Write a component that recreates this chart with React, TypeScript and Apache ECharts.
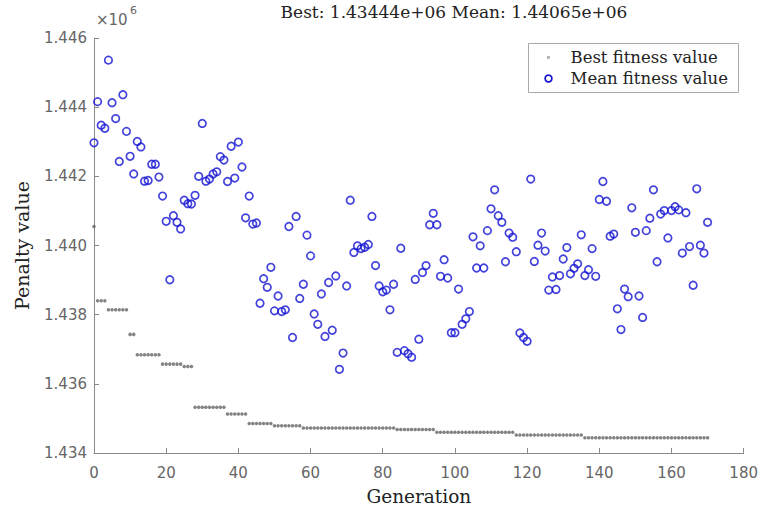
import React, { useEffect, useRef } from "react";
import * as echarts from "echarts";

// Mean fitness value per generation (0..170)
const meanFitness: number[] = [
  1442970, 1444160, 1443480, 1443390, 1445360, 1444130, 1443670, 1442430, 1444360, 1443300,
  1442580, 1442070, 1443010, 1442850, 1441860, 1441880, 1442350, 1442350, 1441980, 1441430,
  1440700, 1439010, 1440860, 1440670, 1440480, 1441310, 1441210, 1441200, 1441450, 1442000,
  1443530, 1441860, 1441920, 1442070, 1442130, 1442570, 1442470, 1441850, 1442870, 1441950,
  1442990, 1442270, 1440800, 1441430, 1440620, 1440650, 1438330, 1439040, 1438790, 1439370,
  1438110, 1438540, 1438090, 1438140, 1440550, 1437340, 1440840, 1438470, 1438880, 1440300,
  1439700, 1438020, 1437720, 1438600, 1437370, 1438930, 1437550, 1439120, 1436420, 1436890,
  1438830, 1441310, 1439800, 1439990, 1439910, 1439950, 1440030, 1440840, 1439420, 1438830,
  1438660, 1438710, 1438140, 1438880, 1436910, 1439920, 1436960, 1436870, 1436770, 1439020,
  1437290, 1439220, 1439420, 1440600, 1440930, 1440600, 1439110, 1439590, 1439060, 1437480,
  1437480, 1438740, 1437720, 1437880, 1438090, 1440250, 1439350, 1439990, 1439350, 1440430,
  1441060, 1441610, 1440860, 1440670, 1439530, 1440360, 1440240, 1439820, 1437470, 1437340,
  1437230, 1441920, 1439540, 1440010, 1440360, 1439840, 1438710, 1439090, 1438730, 1439130,
  1439610, 1439940, 1439180, 1439340, 1439470, 1440310, 1439130, 1439300, 1439910, 1439110,
  1441330, 1441850, 1441280, 1440270, 1440330, 1438170, 1437570, 1438740, 1438520, 1441090,
  1440380, 1438540, 1437920, 1440430, 1440790, 1441610, 1439530, 1440910, 1441010, 1440220,
  1441010, 1441120, 1441030, 1439780, 1440950, 1439970, 1438850, 1441640, 1440010, 1439780,
  1440670,
];

// Best fitness value per generation (0..170)
const bestFitness: number[] = [
  1440550, 1438400, 1438400, 1438400, 1438140, 1438140, 1438140, 1438140, 1438140, 1438140,
  1437430, 1437430, 1436840, 1436840, 1436840, 1436840, 1436840, 1436840, 1436840, 1436570,
  1436570, 1436570, 1436570, 1436570, 1436570, 1436500, 1436500, 1436500, 1435320, 1435320,
  1435320, 1435320, 1435320, 1435320, 1435320, 1435320, 1435320, 1435130, 1435130, 1435130,
  1435130, 1435130, 1435130, 1434850, 1434850, 1434850, 1434850, 1434850, 1434850, 1434850,
  1434790, 1434790, 1434790, 1434790, 1434790, 1434790, 1434790, 1434790, 1434720, 1434720,
  1434720, 1434720, 1434720, 1434720, 1434720, 1434720, 1434720, 1434720, 1434720, 1434720,
  1434720, 1434720, 1434720, 1434720, 1434720, 1434720, 1434720, 1434720, 1434720, 1434720,
  1434720, 1434720, 1434720, 1434720, 1434680, 1434680, 1434680, 1434680, 1434680, 1434680,
  1434680, 1434680, 1434680, 1434680, 1434680, 1434600, 1434600, 1434600, 1434600, 1434600,
  1434600, 1434600, 1434600, 1434600, 1434600, 1434600, 1434600, 1434600, 1434600, 1434600,
  1434600, 1434600, 1434600, 1434600, 1434600, 1434600, 1434600, 1434520, 1434520, 1434520,
  1434520, 1434520, 1434520, 1434520, 1434520, 1434520, 1434520, 1434520, 1434520, 1434520,
  1434520, 1434520, 1434520, 1434520, 1434520, 1434520, 1434440, 1434440, 1434440, 1434440,
  1434440, 1434440, 1434440, 1434440, 1434440, 1434440, 1434440, 1434440, 1434440, 1434440,
  1434440, 1434440, 1434440, 1434440, 1434440, 1434440, 1434440, 1434440, 1434440, 1434440,
  1434440, 1434440, 1434440, 1434440, 1434440, 1434440, 1434440, 1434440, 1434440, 1434440,
  1434440,
];

const seriesNames = ["Best fitness value", "Mean fitness value"];
const titleText = "Best: 1.43444e+06 Mean: 1.44065e+06";
const xAxisName = "Generation";
const yAxisName = "Penalty value";
const xRange = [0, 180, 20];
const yRange = [1434000, 1446000, 2000];

const SERIF = "'DejaVu Serif', 'Liberation Serif', serif";
const SANS = "'DejaVu Sans', sans-serif";
const BLUE = "#1414d2";

export default function App() {
  const ref = useRef<HTMLDivElement>(null);
  useEffect(() => {
    if (!ref.current) return;
    const chart = echarts.init(ref.current, undefined, { renderer: "svg" });
    const axisCommon = {
      axisLine: { show: true, lineStyle: { color: "#8a8a8a", width: 1 } },
      axisTick: { show: true, inside: true, length: 5, lineStyle: { color: "#8a8a8a" } },
      splitLine: { show: false },
      nameLocation: "middle" as const,
    };
    chart.setOption({
      animation: false,
      backgroundColor: "#fff",
      title: {
        text: titleText,
        left: 449,
        top: -2,
        textAlign: "center",
        textStyle: { fontFamily: SERIF, fontSize: 17, fontWeight: "normal", color: "#222" },
      },
      grid: { left: 94, right: 12, top: 38, bottom: 50 },
      xAxis: {
        type: "value",
        min: xRange[0],
        max: xRange[1],
        interval: xRange[2],
        name: xAxisName,
        nameGap: 34,
        nameTextStyle: { fontFamily: SERIF, fontSize: 18.5, color: "#222" },
        ...axisCommon,
        axisLabel: { color: "#666", fontFamily: SANS, fontSize: 15, margin: 12 },
      },
      yAxis: {
        type: "value",
        min: yRange[0],
        max: yRange[1],
        interval: yRange[2],
        name: yAxisName,
        nameGap: 63,
        nameTextStyle: { fontFamily: SERIF, fontSize: 19, color: "#222" },
        ...axisCommon,
        axisLabel: {
          color: "#666",
          fontFamily: SANS,
          fontSize: 15,
          margin: 7,
          formatter: (v: number) => (v / 1e6).toFixed(3),
        },
      },
      series: [
        {
          name: seriesNames[0],
          type: "scatter",
          symbol: "circle",
          symbolSize: 3.5,
          itemStyle: { color: "#5a5a5a", opacity: 0.75 },
          data: bestFitness.map((v, i) => [i, v]),
          z: 2,
        },
        {
          name: seriesNames[1],
          type: "scatter",
          symbol: "circle",
          symbolSize: 7.5,
          itemStyle: { color: "rgba(0,0,0,0)", borderColor: BLUE, borderWidth: 1.7 },
          data: meanFitness.map((v, i) => [i, v]),
          z: 3,
        },
      ],
      graphic: [
        {
          type: "text",
          left: 96,
          top: 12,
          style: { text: "×10", fontFamily: SANS, fontSize: 15, fill: "#666" },
        },
        {
          type: "text",
          left: 130,
          top: 5,
          style: { text: "6", fontFamily: SANS, fontSize: 11, fill: "#666" },
        },
        {
          type: "group",
          left: 528,
          top: 43,
          z: 100,
          children: [
            {
              type: "rect",
              shape: { x: 0, y: 0, width: 210, height: 49 },
              style: { fill: "#fff", stroke: "#a8a8a8", lineWidth: 1 },
            },
            {
              type: "circle",
              shape: { cx: 20, cy: 14, r: 1.6 },
              style: { fill: "#b0b0b0" },
            },
            {
              type: "circle",
              shape: { cx: 20, cy: 35, r: 3.4 },
              style: { fill: "none", stroke: BLUE, lineWidth: 1.7 },
            },
            {
              type: "text",
              x: 42,
              y: 14,
              style: {
                text: seriesNames[0],
                fontFamily: SERIF,
                fontSize: 16.5,
                fill: "#222",
                verticalAlign: "middle",
              },
            },
            {
              type: "text",
              x: 42,
              y: 35,
              style: {
                text: seriesNames[1],
                fontFamily: SERIF,
                fontSize: 16.5,
                fill: "#222",
                verticalAlign: "middle",
              },
            },
          ],
        },
      ],
    });
    return () => chart.dispose();
  }, []);
  return (
    <div
      ref={ref}
      style={{ position: "fixed", left: 0, top: 0, width: 761, height: 511, background: "#fff" }}
    />
  );
}
